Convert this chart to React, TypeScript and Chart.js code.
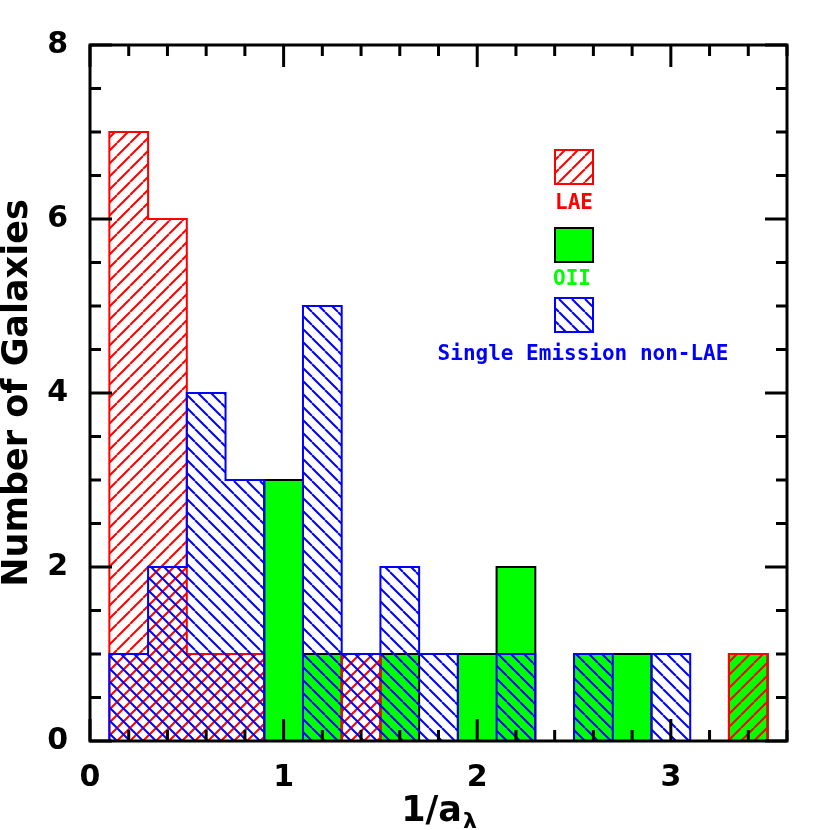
import React, { useEffect, useRef } from "react";
import { Chart, registerables } from "chart.js";

Chart.register(...registerables);

// ---- data ----
const binCenters = [0.2, 0.4, 0.6, 0.8, 1.0, 1.2, 1.4, 1.6, 1.8, 2.0, 2.2, 2.4, 2.6, 2.8, 3.0, 3.2, 3.4];
const binWidth = 0.2;
const laeCounts = [7, 6, 1, 1, 0, 0, 1, 0, 0, 0, 0, 0, 0, 0, 0, 0, 1];
const oiiCounts = [0, 0, 0, 0, 3, 1, 0, 1, 0, 1, 2, 0, 1, 1, 0, 0, 1];
const singleCounts = [1, 2, 4, 3, 0, 5, 1, 2, 1, 0, 1, 0, 1, 0, 1, 0, 0];
const xTickValues = [0, 1, 2, 3];
const yTickValues = [0, 2, 4, 6, 8];
const legendLabels = ["LAE", "OII", "Single Emission non-LAE"];
const yTitle = "Number of Galaxies";

const RED = "#ff0000";
const GREEN = "#00ff00";
const BLUE = "#0000ff";

function hatch(color: string, dir: "/" | "\\", size = 13, lw = 2) {
  const c = document.createElement("canvas");
  c.width = size;
  c.height = size;
  const ctx = c.getContext("2d")!;
  ctx.strokeStyle = color;
  ctx.lineWidth = lw;
  ctx.beginPath();
  for (let k = -1; k <= 1; k++) {
    if (dir === "/") {
      ctx.moveTo(k * size, size);
      ctx.lineTo(k * size + size, 0);
    } else {
      ctx.moveTo(k * size, 0);
      ctx.lineTo(k * size + size, size);
    }
  }
  ctx.stroke();
  return ctx.createPattern(c, "repeat")!;
}

function barPoints(counts: number[]) {
  return binCenters.map((x, i) => ({ x, y: counts[i] })).filter((p) => p.y > 0);
}

function outline(counts: number[]) {
  const pts: { x: number; y: number | null }[] = [];
  for (let i = 0; i < counts.length; i++) {
    const c = counts[i];
    if (!c) continue;
    const lo = binCenters[i] - binWidth / 2;
    const hi = binCenters[i] + binWidth / 2;
    const prev = i > 0 ? counts[i - 1] : 0;
    const next = i < counts.length - 1 ? counts[i + 1] : 0;
    if (!prev) pts.push({ x: lo, y: 0 });
    pts.push({ x: lo, y: c }, { x: hi, y: c });
    if (!next) {
      pts.push({ x: hi, y: 0 });
      pts.push({ x: hi, y: null });
    }
  }
  return pts;
}

export default function App() {
  const ref = useRef<HTMLCanvasElement>(null);
  useEffect(() => {
    const canvas = ref.current!;
    const redPat = hatch(RED, "/");
    const bluePat = hatch(BLUE, "\\");

    const frame = {
      id: "frame",
      afterDraw(chart: any) {
        const ctx = chart.ctx;
        const { left, right, top, bottom } = chart.chartArea;
        const xs = chart.scales.x;
        const ys = chart.scales.y;
        ctx.save();
        ctx.strokeStyle = "#000";
        ctx.lineWidth = 3;
        ctx.lineCap = "butt";
        ctx.beginPath();
        for (let i = 0; i <= 18; i++) {
          const px = xs.getPixelForValue(i * 0.2);
          const len = i % 5 === 0 ? 22 : 11;
          ctx.moveTo(px, bottom);
          ctx.lineTo(px, bottom - len);
          ctx.moveTo(px, top);
          ctx.lineTo(px, top + len);
        }
        for (let i = 0; i <= 16; i++) {
          const py = ys.getPixelForValue(i * 0.5);
          const len = i % 4 === 0 ? 22 : 11;
          ctx.moveTo(left, py);
          ctx.lineTo(left + len, py);
          ctx.moveTo(right, py);
          ctx.lineTo(right - len, py);
        }
        ctx.stroke();
        ctx.lineJoin = "miter";
        ctx.strokeRect(left, top, right - left, bottom - top);

        // axis titles
        ctx.fillStyle = "#000";
        ctx.font = "bold 35px 'DejaVu Sans'";
        const main = "1/a";
        ctx.font = "bold 35px 'DejaVu Sans'";
        const wMain = ctx.measureText(main).width;
        ctx.font = "bold 22px 'DejaVu Sans'";
        const wSub = ctx.measureText("λ").width;
        const cx = (left + right) / 2;
        const sx = cx - (wMain + wSub) / 2;
        ctx.textAlign = "left";
        ctx.textBaseline = "alphabetic";
        ctx.font = "bold 35px 'DejaVu Sans'";
        ctx.fillText(main, sx, 821);
        ctx.font = "bold 22px 'DejaVu Sans'";
        ctx.fillText("λ", sx + wMain + 1, 828);

        ctx.save();
        ctx.translate(27, (top + bottom) / 2);
        ctx.rotate(-Math.PI / 2);
        ctx.textAlign = "center";
        ctx.font = "bold 35px 'DejaVu Sans'";
        ctx.fillText(yTitle, 0, 0);
        ctx.restore();

        // legend
        const bx = 555, bw = 38, bh = 34;
        ctx.lineWidth = 2;
        ctx.fillStyle = redPat;
        ctx.fillRect(bx, 150, bw, bh);
        ctx.strokeStyle = RED;
        ctx.strokeRect(bx, 150, bw, bh);
        ctx.fillStyle = GREEN;
        ctx.fillRect(bx, 228, bw, bh);
        ctx.strokeStyle = "#000";
        ctx.strokeRect(bx, 228, bw, bh);
        ctx.fillStyle = bluePat;
        ctx.fillRect(bx, 298, bw, bh);
        ctx.strokeStyle = BLUE;
        ctx.strokeRect(bx, 298, bw, bh);

        ctx.font = "bold 21px 'DejaVu Sans Mono'";
        ctx.textAlign = "center";
        ctx.textBaseline = "alphabetic";
        ctx.fillStyle = RED;
        ctx.fillText(legendLabels[0], 574, 209);
        ctx.fillStyle = GREEN;
        ctx.fillText(legendLabels[1], 572, 285);
        ctx.fillStyle = BLUE;
        ctx.fillText(legendLabels[2], 583, 360);
        ctx.restore();
      },
    };

    const tickFont = { family: "DejaVu Sans", size: 30, weight: "bold" as const };

    const chart = new Chart(canvas, {
      type: "bar",
      data: {
        datasets: [
          {
            type: "line",
            label: "single-outline",
            data: outline(singleCounts) as any,
            borderColor: BLUE,
            borderWidth: 2,
            pointRadius: 0,
            tension: 0,
            fill: false,
            spanGaps: false,
            order: 0,
          } as any,
          {
            type: "bar",
            label: legendLabels[2],
            data: barPoints(singleCounts) as any,
            backgroundColor: bluePat,
            borderWidth: 0,
            grouped: false,
            barPercentage: 1,
            categoryPercentage: 1,
            order: 1,
          } as any,
          {
            type: "line",
            label: "lae-outline",
            data: outline(laeCounts) as any,
            borderColor: RED,
            borderWidth: 2,
            pointRadius: 0,
            tension: 0,
            fill: false,
            spanGaps: false,
            order: 2,
          } as any,
          {
            type: "bar",
            label: legendLabels[0],
            data: barPoints(laeCounts) as any,
            backgroundColor: redPat,
            borderWidth: 0,
            grouped: false,
            barPercentage: 1,
            categoryPercentage: 1,
            order: 3,
          } as any,
          {
            type: "line",
            label: "oii-outline",
            data: outline(oiiCounts) as any,
            borderColor: "#000",
            borderWidth: 2,
            pointRadius: 0,
            tension: 0,
            fill: false,
            spanGaps: false,
            order: 4,
          } as any,
          {
            type: "bar",
            label: legendLabels[1],
            data: barPoints(oiiCounts) as any,
            backgroundColor: GREEN,
            borderWidth: 0,
            grouped: false,
            barPercentage: 1,
            categoryPercentage: 1,
            order: 5,
          } as any,
        ],
      },
      options: {
        responsive: false,
        animation: false,
        events: [],
        layout: { padding: { top: 45, right: 43, left: 0, bottom: 0 } },
        plugins: { legend: { display: false }, tooltip: { enabled: false } },
        scales: {
          x: {
            type: "linear",
            min: 0,
            max: 3.6,
            offset: false,
            grid: { display: false, drawTicks: false },
            border: { display: false },
            afterFit: (s: any) => {
              s.height = 89;
            },
            afterBuildTicks: (s: any) => {
              s.ticks = xTickValues.map((v) => ({ value: v }));
            },
            ticks: {
              font: tickFont,
              color: "#000",
              padding: 19,
              maxRotation: 0,
              autoSkip: false,
              callback: (v: any) => String(v),
            },
          },
          y: {
            type: "linear",
            min: 0,
            max: 8,
            grid: { display: false, drawTicks: false },
            border: { display: false },
            afterFit: (s: any) => {
              s.width = 90;
            },
            afterBuildTicks: (s: any) => {
              s.ticks = yTickValues.map((v) => ({ value: v }));
            },
            ticks: {
              font: tickFont,
              color: "#000",
              padding: 22,
              autoSkip: false,
              callback: (v: any) => String(v),
            },
          },
        },
      },
      plugins: [frame],
    } as any);
    return () => chart.destroy();
  }, []);

  return (
    <div style={{ position: "absolute", left: 0, top: 0, width: 830, height: 830, background: "#fff" }}>
      <canvas ref={ref} width={830} height={830} style={{ display: "block" }} />
    </div>
  );
}
